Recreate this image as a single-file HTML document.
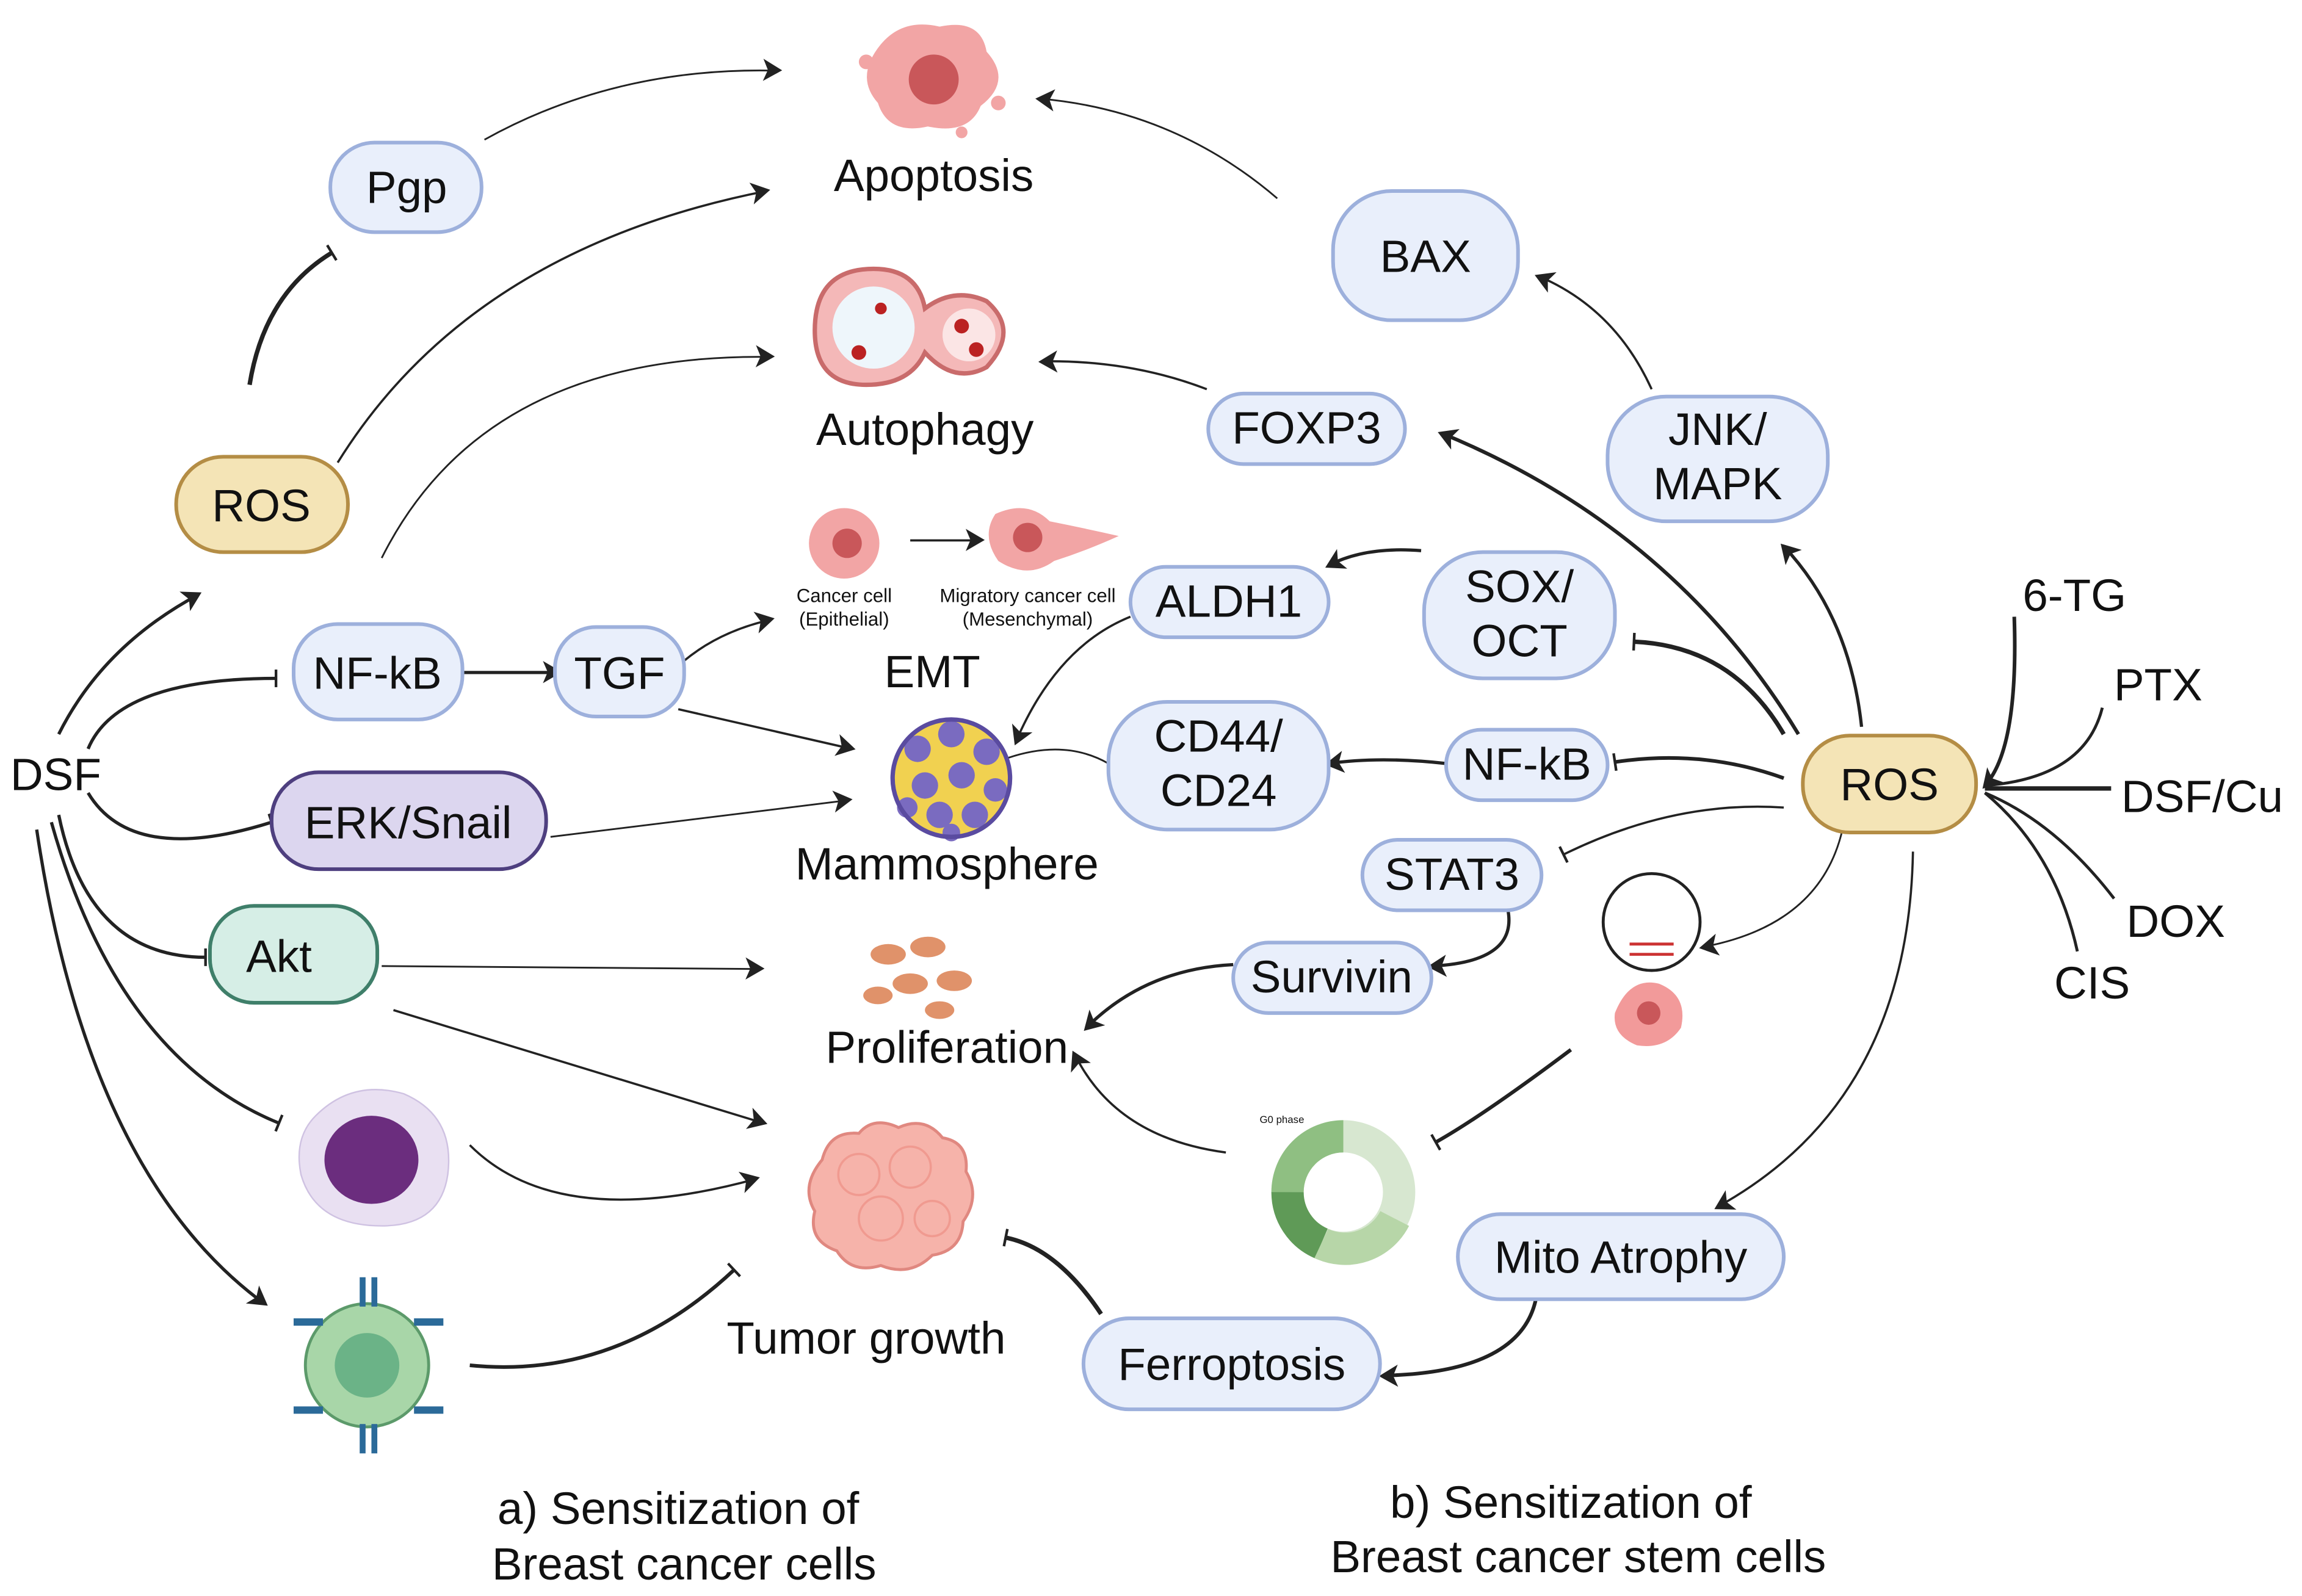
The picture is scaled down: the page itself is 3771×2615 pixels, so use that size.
<!DOCTYPE html>
<html><head><meta charset="utf-8"><style>
html,body{margin:0;padding:0;background:#fff;}
svg{display:block;}
text{font-family:"Liberation Sans",sans-serif;fill:#111;}
</style></head><body>
<svg width="3771" height="2615" viewBox="0 0 1568 1087" xmlns="http://www.w3.org/2000/svg">
<defs>
<marker id="a" viewBox="0 0 10 10" refX="8" refY="5" markerWidth="6" markerHeight="6" orient="auto" markerUnits="userSpaceOnUse" style="overflow:visible">
<path d="M-10,-9 L14,5 L-10,19 L-4,5 Z" fill="#222" transform="scale(0.9)"/></marker>
<marker id="t" viewBox="0 0 10 10" refX="5" refY="5" markerWidth="6" markerHeight="6" orient="auto" markerUnits="userSpaceOnUse" style="overflow:visible">
<line x1="5" y1="-5" x2="5" y2="15" stroke="#222" stroke-width="3"/></marker>
</defs>
<g fill="none" stroke="#222" stroke-width="2.2">
<path d="M170,262 Q180,200 226,172" marker-end="url(#t)" stroke-width="3"/>
<path d="M330,95 Q420,45 530,48" marker-end="url(#a)" stroke-width="1.2"/>
<path d="M230,315 Q320,170 522,130" marker-end="url(#a)" stroke-width="1.5"/>
<path d="M260,380 Q330,240 525,243" marker-end="url(#a)" stroke-width="1.2"/>
<path d="M40,500 Q70,440 135,405" marker-end="url(#a)"/>
<path d="M60,510 Q80,462 188,462" marker-end="url(#t)"/>
<path d="M315,458 L380,458" marker-end="url(#a)"/>
<path d="M466,450 Q490,430 525,422" marker-end="url(#a)" stroke-width="1.5"/>
<path d="M462,483 L580,510" marker-end="url(#a)" stroke-width="1.5"/>
<path d="M60,540 Q90,590 185,560" marker-end="url(#t)"/>
<path d="M375,570 L578,545" marker-end="url(#a)" stroke-width="1.2"/>
<path d="M40,555 Q60,652 140,652" marker-end="url(#t)"/>
<path d="M260,658 L518,660" marker-end="url(#a)" stroke-width="1.2"/>
<path d="M268,688 L520,765" marker-end="url(#a)" stroke-width="1.5"/>
<path d="M35,560 Q80,720 190,765" marker-end="url(#t)"/>
<path d="M320,780 Q380,840 515,803" marker-end="url(#a)" stroke-width="1.5"/>
<path d="M25,565 Q60,800 180,888" marker-end="url(#a)"/>
<path d="M320,930 Q420,940 500,865" marker-end="url(#t)" stroke-width="2.5"/>
<path d="M870,135 Q800,75 708,67" marker-end="url(#a)" stroke-width="1.2"/>
<path d="M1125,265 Q1100,210 1048,188" marker-end="url(#a)" stroke-width="1.5"/>
<path d="M1268,495 Q1260,420 1215,372" marker-end="url(#a)"/>
<path d="M822,265 Q770,245 710,246" marker-end="url(#a)" stroke-width="1.5"/>
<path d="M1225,500 Q1140,360 982,295" marker-end="url(#a)" stroke-width="2.5"/>
<path d="M968,375 Q930,372 905,385" marker-end="url(#a)"/>
<path d="M1215,500 Q1180,440 1113,437" marker-end="url(#t)" stroke-width="3"/>
<path d="M770,420 Q720,440 692,505" marker-end="url(#a)" stroke-width="1.5"/>
<path d="M755,520 Q720,500 672,522" marker-end="url(#a)" stroke-width="1.2"/>
<path d="M985,520 Q940,515 905,520" marker-end="url(#a)"/>
<path d="M1215,530 Q1160,510 1100,519" marker-end="url(#t)" stroke-width="2.5"/>
<path d="M1215,550 Q1140,545 1065,582" marker-end="url(#t)" stroke-width="1.5"/>
<path d="M1025,612 Q1040,655 975,658" marker-end="url(#a)"/>
<path d="M1255,565 Q1240,630 1160,645" marker-end="url(#a)" stroke-width="1.2"/>
<path d="M840,657 Q780,660 740,700" marker-end="url(#a)"/>
<path d="M1070,715 Q1010,760 978,778" marker-end="url(#t)" stroke-width="2.5"/>
<path d="M835,785 Q760,775 732,718" marker-end="url(#a)" stroke-width="1.5"/>
<path d="M1303,580 Q1300,750 1170,822" marker-end="url(#a)" stroke-width="1.5"/>
<path d="M1047,880 Q1040,935 942,937" marker-end="url(#a)" stroke-width="2.5"/>
<path d="M750,895 Q720,850 685,843" marker-end="url(#t)" stroke-width="3"/>
<path d="M620,368 L668,368" marker-end="url(#a)" stroke-width="1.5"/>
<path d="M1372,420 Q1375,510 1352,535" marker-end="url(#a)" stroke-width="2.5"/>
<path d="M1432,482 Q1420,530 1352,535" stroke-width="2"/>
<path d="M1438,537 L1352,537" stroke-width="3"/>
<path d="M1440,612 Q1400,560 1352,540" stroke-width="2"/>
<path d="M1415,648 Q1400,580 1352,540" stroke-width="2"/>
</g>
<g stroke-width="2.5">
<rect x="225" y="97" width="103" height="61" rx="30" fill="#e9effb" stroke="#9db0dc"/>
<rect x="120" y="311" width="117" height="65" rx="32" fill="#f4e4b6" stroke="#b48d45"/>
<rect x="200" y="425" width="115" height="65" rx="30" fill="#e9effb" stroke="#9db0dc"/>
<rect x="378" y="427" width="88" height="61" rx="28" fill="#e9effb" stroke="#9db0dc"/>
<rect x="185" y="526" width="187" height="66" rx="32" fill="#dcd6ef" stroke="#4e3f7f"/>
<rect x="143" y="617" width="114" height="66" rx="30" fill="#d6eee6" stroke="#3f7f6a"/>
<rect x="908" y="130" width="126" height="88" rx="40" fill="#e9effb" stroke="#9db0dc"/>
<rect x="823" y="268" width="134" height="48" rx="24" fill="#e9effb" stroke="#9db0dc"/>
<rect x="1095" y="270" width="150" height="85" rx="40" fill="#e9effb" stroke="#9db0dc"/>
<rect x="970" y="376" width="130" height="86" rx="40" fill="#e9effb" stroke="#9db0dc"/>
<rect x="770" y="386" width="135" height="48" rx="24" fill="#e9effb" stroke="#9db0dc"/>
<rect x="755" y="478" width="150" height="87" rx="40" fill="#e9effb" stroke="#9db0dc"/>
<rect x="985" y="497" width="110" height="48" rx="24" fill="#e9effb" stroke="#9db0dc"/>
<rect x="928" y="572" width="122" height="48" rx="24" fill="#e9effb" stroke="#9db0dc"/>
<rect x="840" y="642" width="135" height="48" rx="24" fill="#e9effb" stroke="#9db0dc"/>
<rect x="1228" y="501" width="118" height="66" rx="32" fill="#f4e4b6" stroke="#b48d45"/>
<rect x="993" y="827" width="222" height="58" rx="29" fill="#e9effb" stroke="#9db0dc"/>
<rect x="738" y="898" width="202" height="62" rx="31" fill="#e9effb" stroke="#9db0dc"/>
</g>
<g font-size="31" text-anchor="middle">
<text x="277" y="138">Pgp</text>
<text x="178" y="355">ROS</text>
<text x="257" y="469">NF-kB</text>
<text x="422" y="469">TGF</text>
<text x="278" y="571">ERK/Snail</text>
<text x="190" y="662">Akt</text>
<text x="971" y="185">BAX</text>
<text x="890" y="302">FOXP3</text>
<text x="1170" y="303">JNK/</text><text x="1170" y="340">MAPK</text>
<text x="1035" y="410">SOX/</text><text x="1035" y="447">OCT</text>
<text x="837" y="420">ALDH1</text>
<text x="830" y="512">CD44/</text><text x="830" y="549">CD24</text>
<text x="1040" y="531">NF-kB</text>
<text x="989" y="606">STAT3</text>
<text x="907" y="676">Survivin</text>
<text x="1287" y="545">ROS</text>
<text x="1104" y="867">Mito Atrophy</text>
<text x="839" y="940">Ferroptosis</text>
<text x="636" y="130">Apoptosis</text>
<text x="630" y="303">Autophagy</text>
<text x="635" y="468">EMT</text>
<text x="645" y="599">Mammosphere</text>
<text x="645" y="724">Proliferation</text>
<text x="590" y="922">Tumor growth</text>
<text x="38" y="538">DSF</text>
<text x="1413" y="416">6-TG</text>
<text x="1470" y="477">PTX</text>
<text x="1500" y="553">DSF/Cu</text>
<text x="1482" y="638">DOX</text>
<text x="1425" y="680">CIS</text>
<text x="462" y="1038">a) Sensitization of</text>
<text x="466" y="1076">Breast cancer cells</text>
<text x="1070" y="1034">b) Sensitization of</text>
<text x="1075" y="1071">Breast cancer stem cells</text>
</g>
<g font-size="13" text-anchor="middle">
<text x="575" y="410">Cancer cell</text><text x="575" y="426">(Epithelial)</text>
<text x="700" y="410">Migratory cancer cell</text><text x="700" y="426">(Mesenchymal)</text>
<text x="1125" y="612" font-size="11">DNA</text><text x="1125" y="626" font-size="11">damage</text>
</g>
<g>
<path d="M600,30 Q615,12 640,18 Q668,12 672,35 Q690,55 668,72 Q660,92 632,86 Q605,92 598,70 Q582,52 600,30Z" fill="#f2a5a5"/>
<circle cx="636" cy="54" r="17" fill="#c9575a"/>
<circle cx="590" cy="42" r="5" fill="#f2a5a5"/><circle cx="680" cy="70" r="5" fill="#f2a5a5"/><circle cx="655" cy="90" r="4" fill="#f2a5a5"/>
<path d="M555,225 Q555,183 595,183 Q625,183 630,210 Q650,195 672,205 Q695,225 672,250 Q650,262 630,240 Q620,262 590,262 Q555,262 555,225Z" fill="#f4b8b8" stroke="#c96b6b" stroke-width="3"/>
<ellipse cx="595" cy="223" rx="28" ry="28" fill="#eef6fb"/><circle cx="660" cy="228" r="18" fill="#fbe5e5"/>
<circle cx="585" cy="240" r="5" fill="#b22"/><circle cx="600" cy="210" r="4" fill="#b22"/><circle cx="655" cy="222" r="5" fill="#b22"/><circle cx="665" cy="238" r="5" fill="#b22"/>
<circle cx="575" cy="370" r="24" fill="#f2a5a5"/><circle cx="577" cy="370" r="10" fill="#c9575a"/>
<path d="M678,350 Q700,340 715,355 Q740,360 762,365 Q740,375 718,382 Q700,395 680,382 Q668,365 678,350Z" fill="#f2a5a5"/><circle cx="700" cy="366" r="10" fill="#c9575a"/>
<circle cx="648" cy="530" r="40" fill="#f1d150"/>
<g fill="#7a6bc0">
<circle cx="625" cy="510" r="9"/><circle cx="648" cy="500" r="9"/><circle cx="672" cy="512" r="9"/><circle cx="630" cy="535" r="9"/><circle cx="655" cy="528" r="9"/><circle cx="678" cy="538" r="8"/><circle cx="618" cy="550" r="7"/><circle cx="640" cy="555" r="9"/><circle cx="664" cy="555" r="9"/><circle cx="648" cy="567" r="6"/>
</g>
<circle cx="648" cy="530" r="40" fill="none" stroke="#5a4ba0" stroke-width="3"/>
<g fill="#e0926a"><ellipse cx="605" cy="650" rx="12" ry="7"/><ellipse cx="632" cy="645" rx="12" ry="7"/><ellipse cx="620" cy="670" rx="12" ry="7"/><ellipse cx="650" cy="668" rx="12" ry="7"/><ellipse cx="598" cy="678" rx="10" ry="6"/><ellipse cx="640" cy="688" rx="10" ry="6"/></g>
<path d="M560,790 Q565,770 585,772 Q595,760 612,768 Q630,760 642,775 Q660,778 658,798 Q668,815 656,832 Q655,852 635,855 Q620,870 600,862 Q580,868 570,852 Q550,845 555,825 Q545,808 560,790Z" fill="#f6b3aa" stroke="#e08880" stroke-width="2"/>
<g fill="none" stroke="#f09a90" stroke-width="1.5"><circle cx="585" cy="800" r="14"/><circle cx="620" cy="795" r="14"/><circle cx="600" cy="830" r="15"/><circle cx="635" cy="830" r="12"/></g>
<path d="M215,760 Q240,735 275,745 Q310,760 305,800 Q300,835 260,835 Q215,835 205,800 Q200,775 215,760Z" fill="#e9e0f2" stroke="#cfc2e2"/>
<ellipse cx="253" cy="790" rx="32" ry="30" fill="#6b2d7e"/>
<circle cx="250" cy="930" r="42" fill="#a8d6a8" stroke="#5c9a6a" stroke-width="2"/><circle cx="250" cy="930" r="22" fill="#6bb387"/>
<g fill="#2b6a99"><rect x="245" y="870" width="4" height="20"/><rect x="253" y="870" width="4" height="20"/><rect x="245" y="970" width="4" height="20"/><rect x="253" y="970" width="4" height="20"/><rect x="200" y="898" width="20" height="5"/><rect x="200" y="958" width="20" height="5"/><rect x="282" y="898" width="20" height="5"/><rect x="282" y="958" width="20" height="5"/></g>
<circle cx="1125" cy="628" r="33" fill="#fff" stroke="#222" stroke-width="2"/>
<path d="M1110,643 L1140,643 M1110,650 L1140,650" stroke="#c33" stroke-width="2"/>
<path d="M1100,690 Q1110,665 1130,670 Q1150,678 1145,700 Q1135,715 1115,712 Q1098,705 1100,690Z" fill="#f29a9a"/><circle cx="1123" cy="690" r="8" fill="#c9575a"/>
<circle cx="915" cy="812" r="38" fill="none" stroke="#d7e7d0" stroke-width="22"/>
<path d="M877,812 A38,38 0 0 1 915,774" fill="none" stroke="#8fbf82" stroke-width="22"/>
<path d="M877,812 A38,38 0 0 0 900,847" fill="none" stroke="#5f9a57" stroke-width="22"/>
<path d="M900,847 A38,38 0 0 0 950,830" fill="none" stroke="#b7d6a8" stroke-width="22"/>
<text x="858" y="765" font-size="7">G0 phase</text>
</g>
</svg>
</body></html>
